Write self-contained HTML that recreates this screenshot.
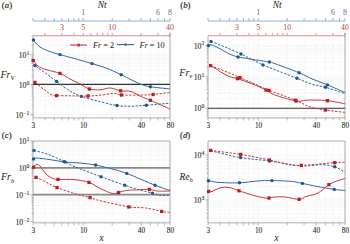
<!DOCTYPE html>
<html><head><meta charset="utf-8"><style>
html,body{margin:0;padding:0;background:#fff;width:350px;height:244px;overflow:hidden}
svg{display:block}
text{font-family:"Liberation Serif",serif}
.tl{font-size:7.8px;fill:#222;stroke:#222;stroke-width:0.08}
.sup{font-size:5.8px}
.it{font-size:9.5px;font-style:italic;fill:#222}
.pl{font-size:8.8px;fill:#222;stroke:#222;stroke-width:0.15}
.yl{font-size:10px;font-style:italic;fill:#222;stroke:#222;stroke-width:0.05}
.sub{font-size:6.5px}
.lg{font-size:8.2px;fill:#2a2a2a;stroke:#2a2a2a;stroke-width:0.05}
</style></head><body>
<svg width="350" height="244" viewBox="0 0 350 244">
<rect width="350" height="244" fill="#fff"/>
<path d="M33.0,36.0V117.9 M45.0,36.0V117.9 M54.3,36.0V117.9 M61.9,36.0V117.9 M68.4,36.0V117.9 M73.9,36.0V117.9 M78.8,36.0V117.9 M83.2,36.0V117.9 M112.2,36.0V117.9 M129.1,36.0V117.9 M141.1,36.0V117.9 M150.4,36.0V117.9 M158.0,36.0V117.9 M164.4,36.0V117.9 M170.0,36.0V117.9 M33.0,115.8H170.0 M33.0,114.4H170.0 M33.0,105.4H170.0 M33.0,100.1H170.0 M33.0,96.3H170.0 M33.0,93.4H170.0 M33.0,91.1H170.0 M33.0,89.0H170.0 M33.0,87.3H170.0 M33.0,85.8H170.0 M33.0,84.4H170.0 M33.0,75.4H170.0 M33.0,70.1H170.0 M33.0,66.3H170.0 M33.0,63.4H170.0 M33.0,61.1H170.0 M33.0,59.0H170.0 M33.0,57.3H170.0 M33.0,55.8H170.0 M33.0,54.4H170.0 M33.0,45.4H170.0 M33.0,40.1H170.0 M33.0,36.3H170.0" stroke="#f3f1f1" stroke-width="0.6" fill="none"/>
<path d="M33.0,36.0V117.9H170.0V36.0" stroke="#9a9a9a" stroke-width="0.8" fill="none"/>
<path d="M33.0,117.9v2.6 M45.0,117.9v2.6 M54.3,117.9v2.6 M61.9,117.9v2.6 M68.4,117.9v2.6 M73.9,117.9v2.6 M78.8,117.9v2.6 M83.2,117.9v2.6 M112.2,117.9v2.6 M129.1,117.9v2.6 M141.1,117.9v2.6 M150.4,117.9v2.6 M158.0,117.9v2.6 M164.4,117.9v2.6 M170.0,117.9v2.6 M33.0,115.8h-1.5 M33.0,114.4h-2.5 M33.0,105.4h-1.5 M33.0,100.1h-1.5 M33.0,96.3h-1.5 M33.0,93.4h-1.5 M33.0,91.1h-1.5 M33.0,89.0h-1.5 M33.0,87.3h-1.5 M33.0,85.8h-1.5 M33.0,84.4h-2.5 M33.0,75.4h-1.5 M33.0,70.1h-1.5 M33.0,66.3h-1.5 M33.0,63.4h-1.5 M33.0,61.1h-1.5 M33.0,59.0h-1.5 M33.0,57.3h-1.5 M33.0,55.8h-1.5 M33.0,54.4h-2.5 M33.0,45.4h-1.5 M33.0,40.1h-1.5 M33.0,36.3h-1.5" stroke="#9a9a9a" stroke-width="0.7" fill="none"/>
<text x="33.4" y="127.9" class="tl" style="font-size:7.3px" text-anchor="middle">3</text>
<text x="83.6" y="127.9" class="tl" style="font-size:7.3px" text-anchor="middle">10</text>
<text x="141.5" y="127.9" class="tl" style="font-size:7.3px" text-anchor="middle">40</text>
<text x="170.4" y="127.9" class="tl" style="font-size:7.3px" text-anchor="middle">80</text>
<text x="29.4" y="117.6" class="tl" text-anchor="end">10<tspan class="sup" dy="-3.1">−1</tspan></text>
<text x="29.4" y="87.6" class="tl" text-anchor="end">10<tspan class="sup" dy="-3.1">0</tspan></text>
<text x="29.4" y="57.6" class="tl" text-anchor="end">10<tspan class="sup" dy="-3.1">1</tspan></text>
<path d="M33.0,84.4H170.0" stroke="#333" stroke-width="1.1"/>
<path d="M208.0,36.0V117.9 M220.0,36.0V117.9 M229.3,36.0V117.9 M236.9,36.0V117.9 M243.4,36.0V117.9 M248.9,36.0V117.9 M253.8,36.0V117.9 M258.2,36.0V117.9 M287.2,36.0V117.9 M304.1,36.0V117.9 M316.1,36.0V117.9 M325.4,36.0V117.9 M333.0,36.0V117.9 M339.4,36.0V117.9 M345.0,36.0V117.9 M208.0,117.7H345.0 M208.0,115.2H345.0 M208.0,113.1H345.0 M208.0,111.2H345.0 M208.0,109.6H345.0 M208.0,108.2H345.0 M208.0,98.7H345.0 M208.0,93.2H345.0 M208.0,89.3H345.0 M208.0,86.2H345.0 M208.0,83.7H345.0 M208.0,81.6H345.0 M208.0,79.8H345.0 M208.0,78.2H345.0 M208.0,76.8H345.0 M208.0,67.3H345.0 M208.0,61.7H345.0 M208.0,57.8H345.0 M208.0,54.8H345.0 M208.0,52.3H345.0 M208.0,50.2H345.0 M208.0,48.3H345.0 M208.0,46.7H345.0 M208.0,45.3H345.0" stroke="#f3f1f1" stroke-width="0.6" fill="none"/>
<path d="M208.0,36.0V117.9H345.0V36.0" stroke="#9a9a9a" stroke-width="0.8" fill="none"/>
<path d="M208.0,117.9v2.6 M220.0,117.9v2.6 M229.3,117.9v2.6 M236.9,117.9v2.6 M243.4,117.9v2.6 M248.9,117.9v2.6 M253.8,117.9v2.6 M258.2,117.9v2.6 M287.2,117.9v2.6 M304.1,117.9v2.6 M316.1,117.9v2.6 M325.4,117.9v2.6 M333.0,117.9v2.6 M339.4,117.9v2.6 M345.0,117.9v2.6 M208.0,117.7h-1.5 M208.0,115.2h-1.5 M208.0,113.1h-1.5 M208.0,111.2h-1.5 M208.0,109.6h-1.5 M208.0,108.2h-2.5 M208.0,98.7h-1.5 M208.0,93.2h-1.5 M208.0,89.3h-1.5 M208.0,86.2h-1.5 M208.0,83.7h-1.5 M208.0,81.6h-1.5 M208.0,79.8h-1.5 M208.0,78.2h-1.5 M208.0,76.8h-2.5 M208.0,67.3h-1.5 M208.0,61.7h-1.5 M208.0,57.8h-1.5 M208.0,54.8h-1.5 M208.0,52.3h-1.5 M208.0,50.2h-1.5 M208.0,48.3h-1.5 M208.0,46.7h-1.5 M208.0,45.3h-2.5" stroke="#9a9a9a" stroke-width="0.7" fill="none"/>
<text x="208.4" y="127.9" class="tl" style="font-size:7.3px" text-anchor="middle">3</text>
<text x="258.6" y="127.9" class="tl" style="font-size:7.3px" text-anchor="middle">10</text>
<text x="316.5" y="127.9" class="tl" style="font-size:7.3px" text-anchor="middle">40</text>
<text x="345.4" y="127.9" class="tl" style="font-size:7.3px" text-anchor="middle">80</text>
<text x="204.4" y="111.4" class="tl" text-anchor="end">10<tspan class="sup" dy="-3.1">0</tspan></text>
<text x="204.4" y="80.0" class="tl" text-anchor="end">10<tspan class="sup" dy="-3.1">1</tspan></text>
<text x="204.4" y="48.5" class="tl" text-anchor="end">10<tspan class="sup" dy="-3.1">2</tspan></text>
<path d="M208.0,108.2H345.0" stroke="#333" stroke-width="1.1"/>
<path d="M33.0,141.0V222.8 M45.0,141.0V222.8 M54.3,141.0V222.8 M61.9,141.0V222.8 M68.4,141.0V222.8 M73.9,141.0V222.8 M78.8,141.0V222.8 M83.2,141.0V222.8 M112.2,141.0V222.8 M129.1,141.0V222.8 M141.1,141.0V222.8 M150.4,141.0V222.8 M158.0,141.0V222.8 M164.4,141.0V222.8 M170.0,141.0V222.8 M33.0,221.5H170.0 M33.0,213.4H170.0 M33.0,208.7H170.0 M33.0,205.4H170.0 M33.0,202.8H170.0 M33.0,200.6H170.0 M33.0,198.9H170.0 M33.0,197.3H170.0 M33.0,195.9H170.0 M33.0,194.7H170.0 M33.0,186.6H170.0 M33.0,181.9H170.0 M33.0,178.6H170.0 M33.0,176.0H170.0 M33.0,173.8H170.0 M33.0,172.1H170.0 M33.0,170.5H170.0 M33.0,169.1H170.0 M33.0,167.9H170.0 M33.0,159.8H170.0 M33.0,155.1H170.0 M33.0,151.8H170.0 M33.0,149.2H170.0 M33.0,147.0H170.0 M33.0,145.3H170.0 M33.0,143.7H170.0 M33.0,142.3H170.0 M33.0,141.1H170.0" stroke="#f3f1f1" stroke-width="0.6" fill="none"/>
<path d="M33.0,141.0V222.8H170.0V141.0" stroke="#9a9a9a" stroke-width="0.8" fill="none"/>
<path d="M33.0,141.0H170.0" stroke="#9a9a9a" stroke-width="0.8" fill="none"/>
<path d="M33.0,222.8v2.6 M45.0,222.8v2.6 M54.3,222.8v2.6 M61.9,222.8v2.6 M68.4,222.8v2.6 M73.9,222.8v2.6 M78.8,222.8v2.6 M83.2,222.8v2.6 M112.2,222.8v2.6 M129.1,222.8v2.6 M141.1,222.8v2.6 M150.4,222.8v2.6 M158.0,222.8v2.6 M164.4,222.8v2.6 M170.0,222.8v2.6 M33.0,221.5h-2.5 M33.0,213.4h-1.5 M33.0,208.7h-1.5 M33.0,205.4h-1.5 M33.0,202.8h-1.5 M33.0,200.6h-1.5 M33.0,198.9h-1.5 M33.0,197.3h-1.5 M33.0,195.9h-1.5 M33.0,194.7h-2.5 M33.0,186.6h-1.5 M33.0,181.9h-1.5 M33.0,178.6h-1.5 M33.0,176.0h-1.5 M33.0,173.8h-1.5 M33.0,172.1h-1.5 M33.0,170.5h-1.5 M33.0,169.1h-1.5 M33.0,167.9h-2.5 M33.0,159.8h-1.5 M33.0,155.1h-1.5 M33.0,151.8h-1.5 M33.0,149.2h-1.5 M33.0,147.0h-1.5 M33.0,145.3h-1.5 M33.0,143.7h-1.5 M33.0,142.3h-1.5 M33.0,141.1h-2.5" stroke="#9a9a9a" stroke-width="0.7" fill="none"/>
<text x="33.4" y="232.8" class="tl" style="font-size:7.3px" text-anchor="middle">3</text>
<text x="83.6" y="232.8" class="tl" style="font-size:7.3px" text-anchor="middle">10</text>
<text x="141.5" y="232.8" class="tl" style="font-size:7.3px" text-anchor="middle">40</text>
<text x="170.4" y="232.8" class="tl" style="font-size:7.3px" text-anchor="middle">80</text>
<text x="29.4" y="224.7" class="tl" text-anchor="end">10<tspan class="sup" dy="-3.1">−2</tspan></text>
<text x="29.4" y="197.9" class="tl" text-anchor="end">10<tspan class="sup" dy="-3.1">−1</tspan></text>
<text x="29.4" y="171.1" class="tl" text-anchor="end">10<tspan class="sup" dy="-3.1">0</tspan></text>
<text x="29.4" y="144.3" class="tl" text-anchor="end">10<tspan class="sup" dy="-3.1">1</tspan></text>
<path d="M33.0,167.9H170.0" stroke="#8a8a8a" stroke-width="1.8"/>
<path d="M33.0,194.7H170.0" stroke="#8a8a8a" stroke-width="1.8"/>
<path d="M208.0,141.0V222.8 M220.0,141.0V222.8 M229.3,141.0V222.8 M236.9,141.0V222.8 M243.4,141.0V222.8 M248.9,141.0V222.8 M253.8,141.0V222.8 M258.2,141.0V222.8 M287.2,141.0V222.8 M304.1,141.0V222.8 M316.1,141.0V222.8 M325.4,141.0V222.8 M333.0,141.0V222.8 M339.4,141.0V222.8 M345.0,141.0V222.8 M208.0,217.7H345.0 M208.0,213.4H345.0 M208.0,209.8H345.0 M208.0,206.8H345.0 M208.0,204.2H345.0 M208.0,201.9H345.0 M208.0,199.9H345.0 M208.0,186.4H345.0 M208.0,178.6H345.0 M208.0,173.0H345.0 M208.0,168.7H345.0 M208.0,165.1H345.0 M208.0,162.1H345.0 M208.0,159.5H345.0 M208.0,157.2H345.0 M208.0,155.2H345.0" stroke="#f3f1f1" stroke-width="0.6" fill="none"/>
<path d="M208.0,141.0V222.8H345.0V141.0" stroke="#9a9a9a" stroke-width="0.8" fill="none"/>
<path d="M208.0,141.0H345.0" stroke="#9a9a9a" stroke-width="0.8" fill="none"/>
<path d="M208.0,222.8v2.6 M220.0,222.8v2.6 M229.3,222.8v2.6 M236.9,222.8v2.6 M243.4,222.8v2.6 M248.9,222.8v2.6 M253.8,222.8v2.6 M258.2,222.8v2.6 M287.2,222.8v2.6 M304.1,222.8v2.6 M316.1,222.8v2.6 M325.4,222.8v2.6 M333.0,222.8v2.6 M339.4,222.8v2.6 M345.0,222.8v2.6 M208.0,217.7h-1.5 M208.0,213.4h-1.5 M208.0,209.8h-1.5 M208.0,206.8h-1.5 M208.0,204.2h-1.5 M208.0,201.9h-1.5 M208.0,199.9h-2.5 M208.0,186.4h-1.5 M208.0,178.6h-1.5 M208.0,173.0h-1.5 M208.0,168.7h-1.5 M208.0,165.1h-1.5 M208.0,162.1h-1.5 M208.0,159.5h-1.5 M208.0,157.2h-1.5 M208.0,155.2h-2.5" stroke="#9a9a9a" stroke-width="0.7" fill="none"/>
<text x="208.4" y="232.8" class="tl" style="font-size:7.3px" text-anchor="middle">3</text>
<text x="258.6" y="232.8" class="tl" style="font-size:7.3px" text-anchor="middle">10</text>
<text x="316.5" y="232.8" class="tl" style="font-size:7.3px" text-anchor="middle">40</text>
<text x="345.4" y="232.8" class="tl" style="font-size:7.3px" text-anchor="middle">80</text>
<text x="204.4" y="203.1" class="tl" text-anchor="end">10<tspan class="sup" dy="-3.1">3</tspan></text>
<text x="204.4" y="158.4" class="tl" text-anchor="end">10<tspan class="sup" dy="-3.1">4</tspan></text>
<path d="M33.0,21H170.0" stroke="#7eaed6" stroke-width="0.9"/>
<path d="M33.0,20.6v-2.3 M45.0,20.6v-2.3 M54.3,20.6v-2.3 M61.9,20.6v-2.3 M68.4,20.6v-2.3 M73.9,20.6v-2.3 M78.8,20.6v-2.3 M83.2,20.6v-2.3 M112.2,20.6v-2.3 M129.1,20.6v-2.3 M141.1,20.6v-2.3 M150.4,20.6v-2.3 M158.0,20.6v-2.3 M164.4,20.6v-2.3 M170.0,20.6v-2.3" stroke="#6a90b5" stroke-width="0.8"/>
<text x="83.2" y="15.4" class="tl" style="fill:#4f73a0;stroke:none" text-anchor="middle">1</text>
<text x="158.0" y="15.4" class="tl" style="fill:#4f73a0;stroke:none" text-anchor="middle">6</text>
<text x="170.0" y="15.4" class="tl" style="fill:#4f73a0;stroke:none" text-anchor="middle">8</text>
<path d="M33.0,35.6H170.0" stroke="#e9a5a5" stroke-width="1.3"/>
<path d="M170.0,33V37" stroke="#9a9a9a" stroke-width="0.9"/>
<path d="M45.0,35.3v-2.5 M61.9,35.3v-2.5 M73.9,35.3v-2.5 M83.2,35.3v-2.5 M90.8,35.3v-2.5 M97.3,35.3v-2.5 M102.8,35.3v-2.5 M107.8,35.3v-2.5 M112.2,35.3v-2.5 M141.1,35.3v-2.5 M158.0,35.3v-2.5 M170.0,35.3v-2.5" stroke="#b88a8a" stroke-width="0.8"/>
<text x="61.9" y="29.8" class="tl" style="fill:#c03c48;stroke:none" text-anchor="middle">3</text>
<text x="83.2" y="29.8" class="tl" style="fill:#c03c48;stroke:none" text-anchor="middle">5</text>
<text x="112.2" y="29.8" class="tl" style="fill:#c03c48;stroke:none" text-anchor="middle">10</text>
<text x="170.0" y="29.8" class="tl" style="fill:#c03c48;stroke:none" text-anchor="middle">40</text>
<text x="102.2" y="8" class="it" text-anchor="middle">Nt</text>
<path d="M208.0,21H345.0" stroke="#7eaed6" stroke-width="0.9"/>
<path d="M208.0,20.6v-2.3 M220.0,20.6v-2.3 M229.3,20.6v-2.3 M236.9,20.6v-2.3 M243.4,20.6v-2.3 M248.9,20.6v-2.3 M253.8,20.6v-2.3 M258.2,20.6v-2.3 M287.2,20.6v-2.3 M304.1,20.6v-2.3 M316.1,20.6v-2.3 M325.4,20.6v-2.3 M333.0,20.6v-2.3 M339.4,20.6v-2.3 M345.0,20.6v-2.3" stroke="#6a90b5" stroke-width="0.8"/>
<text x="258.2" y="15.4" class="tl" style="fill:#4f73a0;stroke:none" text-anchor="middle">1</text>
<text x="333.0" y="15.4" class="tl" style="fill:#4f73a0;stroke:none" text-anchor="middle">6</text>
<text x="345.0" y="15.4" class="tl" style="fill:#4f73a0;stroke:none" text-anchor="middle">8</text>
<path d="M208.0,35.6H345.0" stroke="#e9a5a5" stroke-width="1.3"/>
<path d="M345.0,33V37" stroke="#9a9a9a" stroke-width="0.9"/>
<path d="M220.0,35.3v-2.5 M236.9,35.3v-2.5 M248.9,35.3v-2.5 M258.2,35.3v-2.5 M265.8,35.3v-2.5 M272.3,35.3v-2.5 M277.8,35.3v-2.5 M282.8,35.3v-2.5 M287.2,35.3v-2.5 M316.1,35.3v-2.5 M333.0,35.3v-2.5 M345.0,35.3v-2.5" stroke="#b88a8a" stroke-width="0.8"/>
<text x="236.9" y="29.8" class="tl" style="fill:#c03c48;stroke:none" text-anchor="middle">3</text>
<text x="258.2" y="29.8" class="tl" style="fill:#c03c48;stroke:none" text-anchor="middle">5</text>
<text x="287.2" y="29.8" class="tl" style="fill:#c03c48;stroke:none" text-anchor="middle">10</text>
<text x="345.0" y="29.8" class="tl" style="fill:#c03c48;stroke:none" text-anchor="middle">40</text>
<text x="277.2" y="8" class="it" text-anchor="middle">Nt</text>
<path d="M33.0,40.0 C34.2,41.2 37.2,45.1 40.0,47.0 C42.8,48.9 46.7,50.3 50.0,51.6 C53.3,52.9 55.7,53.4 60.0,54.6 C64.3,55.8 70.7,57.5 76.0,59.0 C81.3,60.5 87.0,62.1 92.0,63.6 C97.0,65.1 101.1,66.2 106.0,68.0 C110.9,69.8 117.0,72.8 121.2,74.7 C125.4,76.7 127.7,78.1 131.0,79.7 C134.3,81.3 137.8,83.1 141.0,84.3 C144.2,85.5 145.6,85.9 150.4,86.7 C155.2,87.5 166.7,88.6 170.0,89.0" stroke="#2e6aa6" stroke-width="1.0" fill="none"/>
<circle cx="33.5" cy="40.0" r="1.7" fill="#1f5590"/>
<circle cx="60.0" cy="54.6" r="1.7" fill="#1f5590"/>
<circle cx="92.0" cy="63.6" r="1.7" fill="#1f5590"/>
<circle cx="121.2" cy="74.7" r="1.7" fill="#1f5590"/>
<circle cx="150.4" cy="86.7" r="1.7" fill="#1f5590"/>
<path d="M33.0,59.6 C33.8,60.7 35.8,64.3 38.0,66.0 C40.2,67.7 42.3,68.4 46.0,69.6 C49.7,70.8 56.0,71.8 60.0,73.4 C64.0,75.0 66.7,77.2 70.0,79.0 C73.3,80.8 76.8,82.3 80.0,84.0 C83.2,85.7 86.1,88.0 89.4,89.0 C92.7,90.0 96.5,90.0 100.0,89.8 C103.5,89.6 106.9,87.8 110.3,88.0 C113.7,88.2 117.1,90.2 120.6,90.8 C124.0,91.4 127.6,90.5 131.0,91.5 C134.4,92.5 138.0,95.1 141.2,96.6 C144.4,98.1 145.6,98.2 150.4,100.3 C155.2,102.4 166.7,107.5 170.0,109.0" stroke="#c9363b" stroke-width="1.0" fill="none"/>
<rect x="31.55" y="58.85" width="3.3" height="3.3" fill="#b71f28"/>
<rect x="58.35" y="71.75" width="3.3" height="3.3" fill="#b71f28"/>
<rect x="87.75" y="87.35" width="3.3" height="3.3" fill="#b71f28"/>
<rect x="118.95" y="89.15" width="3.3" height="3.3" fill="#b71f28"/>
<rect x="148.75" y="98.65" width="3.3" height="3.3" fill="#b71f28"/>
<path d="M33.0,63.8 C33.3,64.1 32.5,63.7 35.0,65.6 C37.5,67.5 44.4,72.4 48.0,75.0 C51.6,77.6 52.9,78.7 56.6,81.4 C60.3,84.1 65.9,88.5 70.0,91.0 C74.1,93.5 76.4,94.6 81.4,96.4 C86.4,98.2 94.1,100.2 100.0,101.7 C105.9,103.2 111.7,104.7 116.9,105.5 C122.1,106.3 126.1,106.3 131.0,106.3 C135.9,106.2 139.8,105.7 146.3,105.2 C152.8,104.7 166.1,103.5 170.0,103.2" stroke="#2e6aa6" stroke-width="1.0" fill="none" stroke-dasharray="2.4,1.4"/>
<circle cx="35.0" cy="65.6" r="1.7" fill="#1f5590"/>
<circle cx="56.6" cy="81.4" r="1.7" fill="#1f5590"/>
<circle cx="81.4" cy="96.4" r="1.7" fill="#1f5590"/>
<circle cx="116.9" cy="105.5" r="1.7" fill="#1f5590"/>
<circle cx="146.3" cy="105.2" r="1.7" fill="#1f5590"/>
<path d="M35.0,82.4 C36.5,83.6 41.3,87.5 44.0,89.5 C46.7,91.5 48.9,93.5 51.0,94.5 C53.1,95.5 53.4,95.4 56.6,95.6 C59.8,95.8 64.8,95.7 70.0,95.8 C75.2,95.9 83.0,96.1 88.0,96.0 C93.0,95.9 95.6,95.6 100.0,95.2 C104.4,94.8 110.8,93.5 114.4,93.5 C118.0,93.5 117.1,94.8 121.6,95.0 C126.1,95.2 135.9,95.1 141.2,95.0 C146.4,94.9 148.3,94.9 153.1,94.5 C157.9,94.1 167.2,92.8 170.0,92.5" stroke="#c9363b" stroke-width="1.0" fill="none" stroke-dasharray="2.4,1.4"/>
<rect x="33.35" y="80.75" width="3.3" height="3.3" fill="#b71f28"/>
<rect x="54.95" y="93.95" width="3.3" height="3.3" fill="#b71f28"/>
<rect x="86.35" y="94.35" width="3.3" height="3.3" fill="#b71f28"/>
<rect x="119.95" y="93.35" width="3.3" height="3.3" fill="#b71f28"/>
<rect x="151.45" y="92.85" width="3.3" height="3.3" fill="#b71f28"/>
<path d="M211.0,41.4 C213.3,42.3 220.0,44.9 225.0,47.0 C230.0,49.1 236.7,52.0 241.0,54.0 C245.3,56.0 247.3,57.2 251.0,59.0 C254.7,60.8 259.0,63.2 263.0,65.0 C267.0,66.8 269.3,67.6 275.0,69.8 C280.7,72.0 290.8,75.9 297.0,78.3 C303.2,80.7 307.3,82.8 312.0,84.3 C316.7,85.8 319.9,85.8 325.4,87.3 C330.9,88.8 341.7,92.5 345.0,93.5" stroke="#2e6aa6" stroke-width="1.0" fill="none" stroke-dasharray="2.4,1.4"/>
<circle cx="211.0" cy="41.4" r="1.7" fill="#1f5590"/>
<circle cx="241.0" cy="54.0" r="1.7" fill="#1f5590"/>
<circle cx="263.0" cy="65.0" r="1.7" fill="#1f5590"/>
<circle cx="297.0" cy="78.3" r="1.7" fill="#1f5590"/>
<circle cx="325.4" cy="87.3" r="1.7" fill="#1f5590"/>
<path d="M208.0,45.6 C208.7,45.5 210.0,44.5 212.0,45.0 C214.0,45.5 217.0,47.3 220.0,48.8 C223.0,50.3 227.0,52.9 230.0,54.2 C233.0,55.6 234.5,56.1 238.0,56.9 C241.5,57.7 245.8,58.4 251.0,59.2 C256.2,60.1 265.4,61.2 269.4,62.0 C273.4,62.8 270.1,61.9 275.0,63.7 C279.9,65.5 292.8,70.1 299.1,72.7 C305.4,75.3 308.3,77.3 313.0,79.3 C317.7,81.3 322.2,82.7 327.5,84.9 C332.8,87.1 342.1,91.2 345.0,92.5" stroke="#2e6aa6" stroke-width="1.0" fill="none"/>
<circle cx="208.5" cy="45.6" r="1.7" fill="#1f5590"/>
<circle cx="238.0" cy="57.0" r="1.7" fill="#1f5590"/>
<circle cx="269.4" cy="62.0" r="1.7" fill="#1f5590"/>
<circle cx="299.1" cy="72.7" r="1.7" fill="#1f5590"/>
<circle cx="327.5" cy="84.9" r="1.7" fill="#1f5590"/>
<path d="M210.6,65.6 C211.5,66.1 214.1,67.6 216.0,68.8 C217.9,70.0 219.7,71.5 222.0,72.8 C224.3,74.1 227.4,75.8 230.0,76.8 C232.6,77.8 233.7,77.4 237.5,78.6 C241.3,79.8 248.2,82.3 253.0,84.2 C257.8,86.1 262.3,88.2 266.0,90.0 C269.7,91.8 270.0,93.2 275.0,95.0 C280.0,96.8 290.9,100.1 296.0,101.0 C301.1,101.9 302.6,100.4 305.9,100.2 C309.2,100.0 312.4,100.0 316.0,100.1 C319.6,100.2 322.7,100.0 327.5,100.6 C332.3,101.2 342.1,103.3 345.0,103.8" stroke="#c9363b" stroke-width="1.0" fill="none"/>
<rect x="208.95" y="63.95" width="3.3" height="3.3" fill="#b71f28"/>
<rect x="235.85" y="76.95" width="3.3" height="3.3" fill="#b71f28"/>
<rect x="264.35" y="88.35" width="3.3" height="3.3" fill="#b71f28"/>
<rect x="294.35" y="99.35" width="3.3" height="3.3" fill="#b71f28"/>
<rect x="325.85" y="99.05" width="3.3" height="3.3" fill="#b71f28"/>
<path d="M210.6,65.6 C213.0,66.5 220.1,69.2 225.0,71.2 C229.9,73.2 235.2,75.5 240.0,77.6 C244.8,79.7 249.2,81.5 254.0,83.6 C258.8,85.7 265.5,88.9 269.0,90.4 C272.5,91.9 270.6,91.0 275.0,92.6 C279.4,94.2 289.8,97.8 295.6,100.2 C301.4,102.6 305.0,105.3 310.0,106.9 C315.0,108.5 319.6,109.1 325.4,110.0 C331.2,110.9 341.7,112.0 345.0,112.4" stroke="#c9363b" stroke-width="1.0" fill="none" stroke-dasharray="2.4,1.4"/>
<rect x="238.35" y="75.95" width="3.3" height="3.3" fill="#b71f28"/>
<rect x="267.35" y="88.75" width="3.3" height="3.3" fill="#b71f28"/>
<rect x="293.95" y="98.55" width="3.3" height="3.3" fill="#b71f28"/>
<rect x="323.75" y="108.35" width="3.3" height="3.3" fill="#b71f28"/>
<path d="M34.0,150.4 C36.7,151.2 45.0,153.1 50.0,155.0 C55.0,156.9 59.3,159.4 64.0,161.6 C68.7,163.8 71.8,165.5 78.0,168.0 C84.2,170.5 93.2,173.8 101.0,176.7 C108.8,179.6 118.0,183.0 124.7,185.3 C131.4,187.6 136.6,189.1 141.2,190.4 C145.8,191.7 149.4,192.2 152.5,193.1 C155.6,194.0 156.8,195.3 159.7,195.6 C162.6,195.9 168.3,195.1 170.0,195.0" stroke="#2e6aa6" stroke-width="1.0" fill="none" stroke-dasharray="2.4,1.4"/>
<circle cx="34.0" cy="150.4" r="1.7" fill="#1f5590"/>
<circle cx="64.0" cy="161.6" r="1.7" fill="#1f5590"/>
<circle cx="101.0" cy="176.7" r="1.7" fill="#1f5590"/>
<circle cx="124.7" cy="185.3" r="1.7" fill="#1f5590"/>
<circle cx="152.5" cy="193.1" r="1.7" fill="#1f5590"/>
<path d="M33.0,159.0 C33.5,158.8 33.2,157.9 36.0,158.0 C38.8,158.1 45.2,158.9 50.0,159.6 C54.8,160.3 60.0,161.4 65.0,162.0 C70.0,162.6 74.9,162.5 80.0,163.0 C85.1,163.5 90.5,164.1 95.6,165.0 C100.6,165.9 105.1,167.1 110.3,168.5 C115.5,169.9 119.2,170.6 126.7,173.4 C134.2,176.2 147.9,182.5 155.1,185.3 C162.3,188.1 167.5,189.6 170.0,190.4" stroke="#2e6aa6" stroke-width="1.0" fill="none"/>
<circle cx="33.5" cy="159.0" r="1.7" fill="#1f5590"/>
<circle cx="65.0" cy="162.0" r="1.7" fill="#1f5590"/>
<circle cx="95.6" cy="165.0" r="1.7" fill="#1f5590"/>
<circle cx="126.7" cy="173.4" r="1.7" fill="#1f5590"/>
<circle cx="155.1" cy="185.3" r="1.7" fill="#1f5590"/>
<path d="M33.0,167.0 C33.7,166.6 35.8,164.6 37.0,164.4 C38.2,164.2 38.5,164.4 40.0,166.0 C41.5,167.6 44.0,172.0 46.0,174.0 C48.0,176.0 50.0,177.1 52.0,178.0 C54.0,178.9 54.3,179.1 58.0,179.4 C61.7,179.7 68.8,179.1 74.0,179.6 C79.2,180.1 84.7,180.9 89.0,182.4 C93.3,183.9 96.1,186.6 100.0,188.4 C103.9,190.2 109.2,192.8 112.3,193.5 C115.4,194.2 116.1,193.0 118.5,192.5 C120.9,192.0 123.5,190.8 126.7,190.4 C129.9,190.0 134.2,190.0 138.0,189.8 C141.8,189.6 146.1,189.2 149.4,189.4 C152.7,189.6 154.2,190.7 157.6,191.0 C161.0,191.3 167.9,191.0 170.0,191.0" stroke="#c9363b" stroke-width="1.0" fill="none"/>
<rect x="31.85" y="165.65" width="3.3" height="3.3" fill="#b71f28"/>
<rect x="56.35" y="177.75" width="3.3" height="3.3" fill="#b71f28"/>
<rect x="87.35" y="180.75" width="3.3" height="3.3" fill="#b71f28"/>
<rect x="116.85" y="190.85" width="3.3" height="3.3" fill="#b71f28"/>
<rect x="147.75" y="187.75" width="3.3" height="3.3" fill="#b71f28"/>
<path d="M36.0,177.4 C37.0,177.8 38.5,178.3 42.0,180.0 C45.5,181.7 51.3,185.3 57.0,187.6 C62.7,189.9 70.5,192.3 76.0,194.0 C81.5,195.7 86.0,196.5 90.0,197.6 C94.0,198.7 93.5,199.1 100.0,200.7 C106.5,202.2 121.3,205.7 128.8,206.9 C136.4,208.1 139.8,207.2 145.3,207.9 C150.8,208.7 157.6,210.7 161.7,211.4 C165.8,212.2 168.6,212.2 170.0,212.4" stroke="#c9363b" stroke-width="1.0" fill="none" stroke-dasharray="2.4,1.4"/>
<rect x="34.35" y="175.75" width="3.3" height="3.3" fill="#b71f28"/>
<rect x="55.35" y="185.95" width="3.3" height="3.3" fill="#b71f28"/>
<rect x="88.35" y="195.95" width="3.3" height="3.3" fill="#b71f28"/>
<rect x="127.15" y="205.25" width="3.3" height="3.3" fill="#b71f28"/>
<rect x="160.05" y="209.75" width="3.3" height="3.3" fill="#b71f28"/>
<path d="M210.6,150.8 C215.6,151.9 230.8,155.9 240.6,157.6 C250.4,159.3 259.3,159.6 269.4,161.0 C279.5,162.4 292.5,165.2 301.3,165.8 C310.1,166.4 316.7,164.5 322.3,164.7 C327.9,164.9 331.6,165.9 334.7,166.8 C337.8,167.7 339.1,169.0 340.8,169.9 C342.5,170.8 344.3,171.7 345.0,172.0" stroke="#2e6aa6" stroke-width="1.0" fill="none" stroke-dasharray="2.4,1.4"/>
<circle cx="240.6" cy="157.6" r="1.7" fill="#1f5590"/>
<circle cx="269.4" cy="161.0" r="1.7" fill="#1f5590"/>
<circle cx="334.7" cy="166.8" r="1.7" fill="#1f5590"/>
<path d="M210.6,150.4 C215.6,151.1 230.8,152.8 240.6,154.4 C250.4,156.0 261.3,158.3 269.4,160.0 C277.5,161.7 284.1,163.8 289.4,164.7 C294.7,165.6 296.8,165.5 301.3,165.4 C305.8,165.3 310.6,164.8 316.2,164.3 C321.8,163.9 329.9,163.0 334.7,162.7 C339.5,162.4 343.3,162.4 345.0,162.3" stroke="#c9363b" stroke-width="1.0" fill="none" stroke-dasharray="2.4,1.4"/>
<rect x="208.95" y="148.75" width="3.3" height="3.3" fill="#b71f28"/>
<rect x="238.95" y="152.75" width="3.3" height="3.3" fill="#b71f28"/>
<rect x="267.75" y="158.35" width="3.3" height="3.3" fill="#b71f28"/>
<rect x="299.65" y="163.75" width="3.3" height="3.3" fill="#b71f28"/>
<rect x="333.05" y="161.05" width="3.3" height="3.3" fill="#b71f28"/>
<path d="M208.0,180.7 C210.0,181.0 214.8,182.2 220.0,182.5 C225.2,182.8 233.3,183.1 239.5,182.8 C245.7,182.6 251.6,181.4 257.0,181.0 C262.4,180.6 266.2,180.5 272.0,180.6 C277.8,180.7 286.4,180.9 291.5,181.4 C296.6,181.9 298.3,182.6 302.4,183.4 C306.5,184.2 310.9,185.3 316.2,186.3 C321.5,187.3 329.5,188.7 334.3,189.4 C339.1,190.1 343.2,190.2 345.0,190.4" stroke="#2e6aa6" stroke-width="1.0" fill="none"/>
<circle cx="208.4" cy="180.7" r="1.7" fill="#1f5590"/>
<circle cx="239.5" cy="182.8" r="1.7" fill="#1f5590"/>
<circle cx="272.0" cy="180.6" r="1.7" fill="#1f5590"/>
<circle cx="302.4" cy="183.4" r="1.7" fill="#1f5590"/>
<circle cx="334.3" cy="189.4" r="1.7" fill="#1f5590"/>
<path d="M208.0,191.4 C208.7,191.4 210.3,192.0 212.0,191.5 C213.7,191.0 216.0,189.3 218.0,188.6 C220.0,187.9 221.8,187.3 224.0,187.2 C226.2,187.1 228.5,187.3 231.0,187.9 C233.5,188.5 235.0,189.5 239.0,190.8 C243.0,192.1 250.7,194.6 255.0,195.8 C259.3,197.0 262.7,197.6 265.0,198.0 C267.3,198.4 267.3,198.2 269.0,198.0 C270.7,197.8 272.3,197.2 275.0,197.0 C277.7,196.8 281.3,196.6 285.3,197.0 C289.3,197.4 295.7,199.4 299.1,199.3 C302.6,199.2 303.7,197.2 306.0,196.5 C308.3,195.8 311.0,195.4 313.0,194.8 C315.0,194.2 316.3,193.9 318.0,193.0 C319.7,192.1 321.2,190.9 323.0,189.5 C324.8,188.1 326.6,186.1 328.9,184.7 C331.2,183.3 334.0,182.0 336.7,181.0 C339.4,180.0 343.6,178.9 345.0,178.5" stroke="#c9363b" stroke-width="1.0" fill="none"/>
<rect x="206.95" y="189.75" width="3.3" height="3.3" fill="#b71f28"/>
<rect x="237.35" y="189.15" width="3.3" height="3.3" fill="#b71f28"/>
<rect x="267.35" y="196.35" width="3.3" height="3.3" fill="#b71f28"/>
<rect x="297.45" y="197.65" width="3.3" height="3.3" fill="#b71f28"/>
<rect x="327.25" y="183.05" width="3.3" height="3.3" fill="#b71f28"/>
<text x="1.8" y="8.0" class="pl">(<tspan font-style="italic">a</tspan>)</text>
<text x="180.2" y="8.0" class="pl">(<tspan font-style="italic">b</tspan>)</text>
<text x="1.8" y="138.0" class="pl">(<tspan font-style="italic">c</tspan>)</text>
<text x="180.0" y="138.0" class="pl">(<tspan font-style="italic">d</tspan>)</text>
<text x="0.5" y="77.5" class="yl">Fr<tspan class="sub" dy="2.5">V</tspan></text>
<text x="179.3" y="75.5" class="yl">Fr<tspan class="sub" dy="2.5">v</tspan></text>
<text x="1" y="180" class="yl">Fr<tspan class="sub" dy="2.5">h</tspan></text>
<text x="179.5" y="179.6" class="yl" style="font-size:9.5px">Re<tspan class="sub" dy="2.5">h</tspan></text>
<text x="101.6" y="241.4" class="it" style="font-size:10px" text-anchor="middle">x</text>
<text x="276.6" y="241.4" class="it" style="font-size:10px" text-anchor="middle">x</text>
<path d="M70,45H87" stroke="#c9363b" stroke-width="1.1"/>
<rect x="77.2" y="43.7" width="2.8" height="2.8" fill="#c9363b"/>
<text x="93" y="48.3" class="lg"><tspan font-style="italic">Fr</tspan> = 2</text>
<path d="M117,44.6H134" stroke="#2e6aa6" stroke-width="1.1"/>
<circle cx="125.4" cy="44.6" r="1.3" fill="#2e6aa6"/>
<text x="139.5" y="48.3" class="lg"><tspan font-style="italic">Fr</tspan> = 10</text>
</svg></body></html>
